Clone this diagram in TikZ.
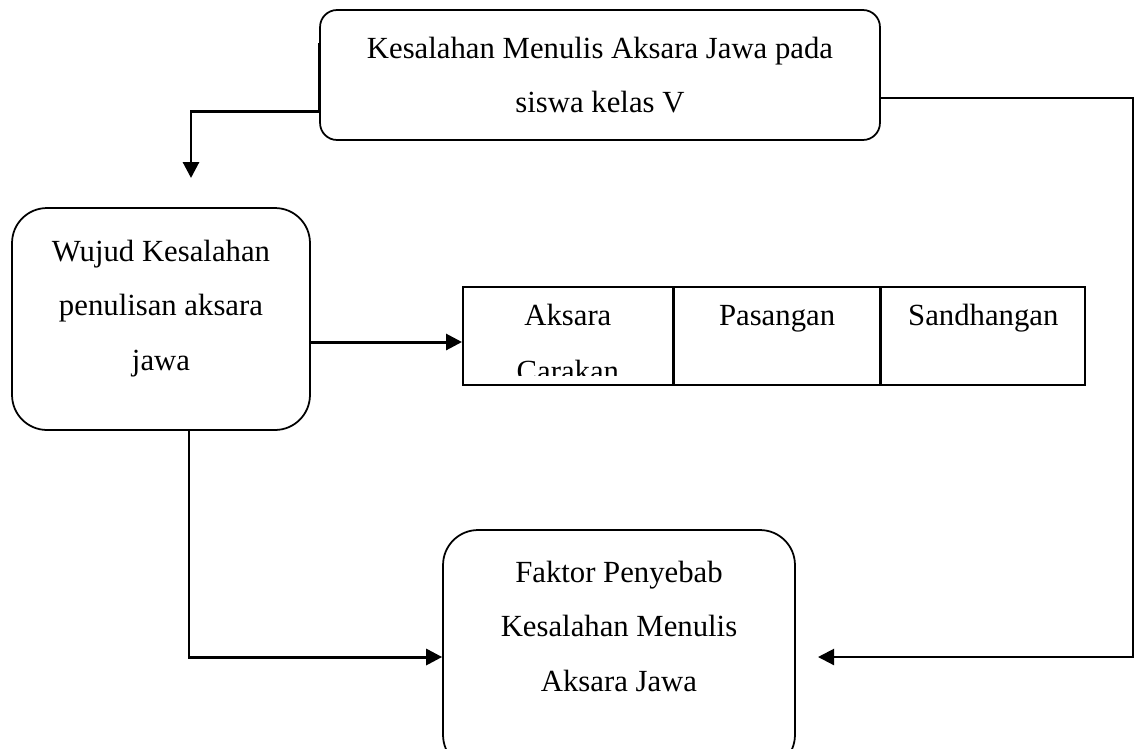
\documentclass[tikz,border=0pt]{standalone}
\usepackage{fontspec}
\setmainfont{Liberation Serif}
\usetikzlibrary{positioning, arrows.meta}
\tikzset{
    round_node/.style={rectangle, rounded corners=0.7cm, line width=1pt, text centered, align=center, draw=black, font=\fontsize{17.5}{31}\selectfont},
    table_cell/.style={rectangle, inner sep=0pt, minimum height=1.96cm, text height=0.78cm, text depth=1.18cm, text centered, draw=black, line width=1pt, font=\fontsize{17.5}{31}\selectfont},
    cell_text/.style={font=\fontsize{17.5}{31}\selectfont},
    arrow/.style={line width=1.7pt, -{Triangle[length=0.32cm, width=0.32cm]}},
    thin_arrow/.style={line width=1.2pt, -{Triangle[length=0.32cm, width=0.32cm]}},
}

\begin{document}
\begin{tikzpicture}[x=0.02cm, y=-0.02cm]
      \useasboundingbox (0,0) rectangle (1139,748);

      \node (kesalahan) [round_node, rounded corners=0.34cm, minimum width=11.2cm, minimum height=2.6cm] at (600,75) {Kesalahan Menulis Aksara Jawa pada\\siswa kelas V};
      \node (wujud) [round_node, minimum width=5.96cm, minimum height=4.44cm, text depth=0.56cm] at (161,319) {Wujud Kesalahan\\penulisan aksara\\jawa};
      \node (faktor) [round_node, minimum width=7.04cm, minimum height=4.8cm, text depth=0.96cm] at (619,650) {Faktor Penyebab\\Kesalahan Menulis\\Aksara Jawa};

      \node (aksara) [table_cell, minimum width=4.2cm, anchor=north west] at (462,286) {Aksara};
      \node (pasangan) [table_cell, minimum width=4.1cm, right=0pt of aksara] {Pasangan};
      \node (sandhangan) [table_cell, minimum width=4.08cm, right=0pt of pasangan] {Sandhangan};

      \begin{scope}
        \clip (aksara.north west) rectangle ([yshift=0.2cm]aksara.south east);
        \node (carakan) [cell_text, anchor=base] at ([yshift=-1.12cm]aksara.base) {Carakan};
      \end{scope}

      \coordinate (wujud_in) at (191,178);
      \coordinate (right_corner) at (1133,98);
      \coordinate (faktor_in) at (818,657);

      \draw [arrow] (kesalahan.west |- 0,43) -- (kesalahan.west |- 0,111) -| (wujud_in);
      \draw [thin_arrow] (kesalahan.east |- 0,98) -- (right_corner) |- (faktor_in);
      \draw [arrow] (wujud.east |- 0,342) -- (aksara.west |- 0,342);
      \draw [arrow] (wujud.south -| 189,0) |- (faktor.west |- 0,657);
\end{tikzpicture}
\end{document}
